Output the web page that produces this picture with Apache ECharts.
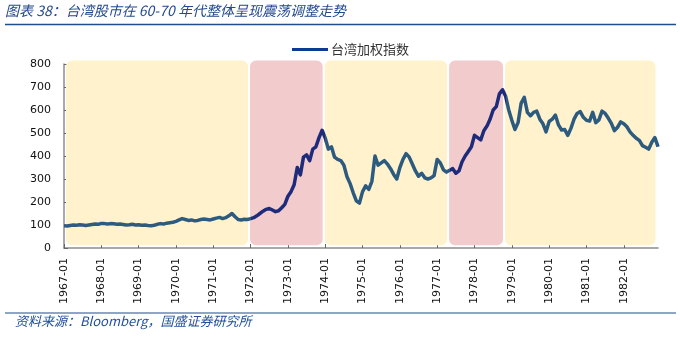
<!DOCTYPE html>
<html>
<head>
<meta charset="utf-8">
<script src="https://cdn.jsdelivr.net/npm/echarts@6/dist/echarts.min.js"></script>
<style>
  html, body { margin: 0; padding: 0; background: #fff; }
  #chart { width: 680px; height: 337px; }
</style>
</head>
<body>
<div id="chart"></div>
<script>
// TAIEX monthly closes, 1967-01 .. 1982-12
const startYear = 1967;
const endYear = 1982;

const taiex = [
  // 1967
  97, 96, 98, 100, 99, 101, 100, 98, 100, 102, 104, 103,
  // 1968
  107, 106, 104, 106, 105, 103, 104, 102, 100, 101, 103, 100,
  // 1969
  101, 99, 100, 98, 97, 99, 103, 106, 104, 108, 110, 112,
  // 1970
  116, 122, 128, 124, 120, 122, 118, 120, 124, 126, 124, 122,
  // 1971
  126, 130, 133, 128, 132, 140, 150, 136, 124, 122, 125, 124,
  // 1972
  128, 132, 140, 150, 160, 168, 172, 165, 158, 162, 175, 190,
  // 1973
  225, 245, 275, 350, 318, 395, 405, 380, 430, 440, 480, 512,
  // 1974
  478, 430, 440, 395, 385, 380, 360, 310, 280, 240, 205, 195,
  // 1975
  245, 270, 255, 290, 400, 360, 370, 380, 365, 345, 320, 300,
  // 1976
  350, 385, 410, 395, 365, 335, 312, 325, 305, 300, 305, 315,
  // 1977
  385, 370, 340, 330, 338, 345, 325, 335, 375, 400, 420, 440,
  // 1978
  490, 480, 470, 510, 530, 560, 600, 615, 670, 688, 660, 600,
  // 1979
  555, 515, 545, 630, 655, 590, 575, 590, 595, 560, 540, 505,
  // 1980
  550, 560, 578, 535, 513, 515, 490, 520, 560, 585, 593, 568,
  // 1981
  555, 552, 590, 545, 557, 595, 585, 565, 542, 510, 525, 548,
  // 1982
  540, 527, 505, 490, 477, 468, 445, 438, 430, 460, 480, 440
];

// Shaded phases: [first month, last month, kind]
const phaseStart = ['1967-01', '1972-01', '1974-01', '1977-05', '1978-11'];
const phaseEnd   = ['1971-12', '1973-12', '1977-04', '1978-10', '1982-11'];
const phaseKind  = ['range', 'rally', 'range', 'rally', 'range'];

const yTicks = [0, 100, 200, 300, 400, 500, 600, 700, 800];

const months = [];
for (let y = startYear; y <= endYear; y++) {
  for (let m = 1; m <= 12; m++) {
    months.push(y + '-' + (m < 10 ? '0' + m : m));
  }
}

const phaseFill = { range: '#FFF2CC', rally: '#F2CCCD' };
const phaseData = phaseStart.map((s, i) => [months.indexOf(s), months.indexOf(phaseEnd[i]), phaseKind[i]]);

// line tint per phase (index boundaries on the category axis)
const linePieces = [];
phaseData.forEach(p => {
  linePieces.push({
    gte: p[0] - 0.5, lt: p[1] + 0.5,
    color: p[2] === 'rally' ? '#1E2B7A' : '#2D5B7F'
  });
});
linePieces.push({ gte: phaseData[phaseData.length - 1][1] + 0.5, color: '#1049A6' });

const chart = echarts.init(document.getElementById('chart'), null, { renderer: 'canvas' });

const titleColor = '#23498F';
const gridLeft = 64, gridRight = 22, gridTop = 64, gridBottom = 89;

chart.setOption({
  animation: false,
  backgroundColor: '#ffffff',
  grid: { left: gridLeft, right: gridRight, top: gridTop, bottom: gridBottom },
  legend: {
    left: 292,
    top: 43,
    padding: 0,
    itemWidth: 36,
    itemHeight: 3,
    icon: 'rect',
    textStyle: { fontFamily: 'Noto Sans CJK SC', fontSize: 13, color: '#333', padding: [0, 0, 0, -2] },
    data: [{ name: '台湾加权指数', itemStyle: { color: '#0C3B92' } }]
  },
  visualMap: {
    show: false,
    type: 'piecewise',
    dimension: 0,
    seriesIndex: 1,
    pieces: linePieces
  },
  xAxis: {
    type: 'category',
    data: months,
    boundaryGap: false,
    axisLine: { lineStyle: { color: '#8C8C8C', width: 1.5 } },
    axisTick: {
      inside: true,
      length: 4,
      lineStyle: { color: '#666' },
      interval: (i) => i % 12 === 0
    },
    axisLabel: {
      rotate: 90,
      margin: 10,
      fontFamily: 'DejaVu Sans',
      fontSize: 11,
      color: '#111',
      interval: (i) => i % 12 === 0
    },
    splitLine: { show: false }
  },
  yAxis: {
    type: 'value',
    min: 0,
    max: 800,
    interval: 100,
    axisLine: { show: true, lineStyle: { color: '#8C8C8C', width: 1.5 } },
    axisTick: { show: true, inside: true, length: 4, lineStyle: { color: '#666' } },
    axisLabel: {
      margin: 13,
      fontFamily: 'DejaVu Sans',
      fontSize: 11,
      color: '#111',
      formatter: (v) => (yTicks.indexOf(v) >= 0 ? String(v) : '')
    },
    splitLine: { show: false }
  },
  series: [
    {
      type: 'custom',
      name: 'phases',
      silent: true,
      z: 1,
      data: phaseData,
      renderItem: function (params, api) {
        const a = api.coord([api.value(0), 815]);
        const b = api.coord([api.value(1), 12]);
        const step = api.size([1, 0])[0];
        let x0 = a[0] - step / 2 + 1;
        const x1 = b[0] + step / 2 - 1;
        x0 = Math.max(x0, params.coordSys.x + 2);
        return {
          type: 'rect',
          shape: { x: x0, y: a[1], width: x1 - x0, height: b[1] - a[1], r: 6 },
          style: { fill: phaseFill[phaseData[params.dataIndex][2]] }
        };
      }
    },
    {
      type: 'line',
      name: '台湾加权指数',
      data: taiex,
      z: 3,
      showSymbol: false,
      symbol: 'none',
      smooth: false,
      lineStyle: { width: 3.5, join: 'round' },
      itemStyle: { color: '#0C3B92' }
    }
  ],
  graphic: [
    {
      type: 'text',
      left: 5,
      top: 4,
      style: {
        text: '图表 38：台湾股市在 60-70 年代整体呈现震荡调整走势',
        fontFamily: 'Noto Sans CJK SC',
        fontStyle: 'italic',
        fontSize: 14,
        fill: titleColor
      }
    },
    {
      type: 'line',
      shape: { x1: 5, y1: 24.5, x2: 676, y2: 24.5 },
      style: { stroke: '#1F4E8C', lineWidth: 1.5 }
    },
    {
      type: 'line',
      shape: { x1: 5, y1: 313, x2: 676, y2: 313 },
      style: { stroke: '#1F4E8C', lineWidth: 1.2 }
    },
    {
      type: 'text',
      left: 15,
      top: 315,
      style: {
        text: '资料来源：Bloomberg，国盛证券研究所',
        fontFamily: 'Noto Sans CJK SC',
        fontStyle: 'italic',
        fontSize: 13,
        fill: '#1F4E9A'
      }
    }
  ]
});
</script>
</body>
</html>
